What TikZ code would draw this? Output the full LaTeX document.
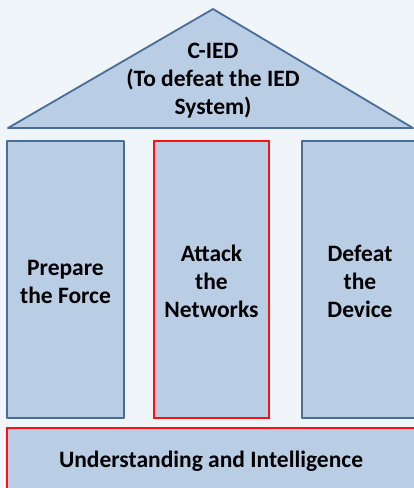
\documentclass[tikz,border=0pt]{standalone}
\usepackage{fontspec}
\setmainfont{Carlito}
\definecolor{bgc}{HTML}{F0F5FA}
\definecolor{fillc}{HTML}{B9CDE5}
\definecolor{edgec}{HTML}{4A6D98}
\definecolor{redc}{HTML}{FF1010}
\begin{document}
\begin{tikzpicture}[x=1pt,y=-1pt,
  part/.style={fill=fillc,draw=edgec,line width=1.8pt,line join=round},
  redpart/.style={fill=fillc,draw=redc,line width=2pt},
  lbl/.style={font=\fontsize{23.5}{28}\selectfont\bfseries,align=center,text=black,inner sep=0pt}]
\useasboundingbox (0,0) rectangle (414,488);
\clip (0,0) rectangle (414,488);
\fill[bgc] (0,0) rectangle (414,488);
% roof
\coordinate (apex) at (213,9);
\coordinate (bl) at (8,128);
\coordinate (br) at (413,128);
\draw[part] (apex) -- (br) -- (bl) -- cycle;
\node[lbl] (roof) at (213,81) {C-IED\\(To defeat the IED\\System)};
% pillars
\draw[part] (7,141) rectangle (124,418);
\node[lbl] (prep) at (65.5,282) {Prepare\\the Force};
\draw[redpart] (154,141) rectangle (269,418);
\node[lbl] (att) at (211.5,281) {Attack\\the\\Networks};
\draw[part] (302,141) rectangle (420,418);
\node[lbl] (def) at (360,281) {Defeat\\the\\Device};
% base
\draw[redpart] (7,428) rectangle (424,500);
\node[lbl] (base) at (211,461) {Understanding and Intelligence};
\end{tikzpicture}
\end{document}
